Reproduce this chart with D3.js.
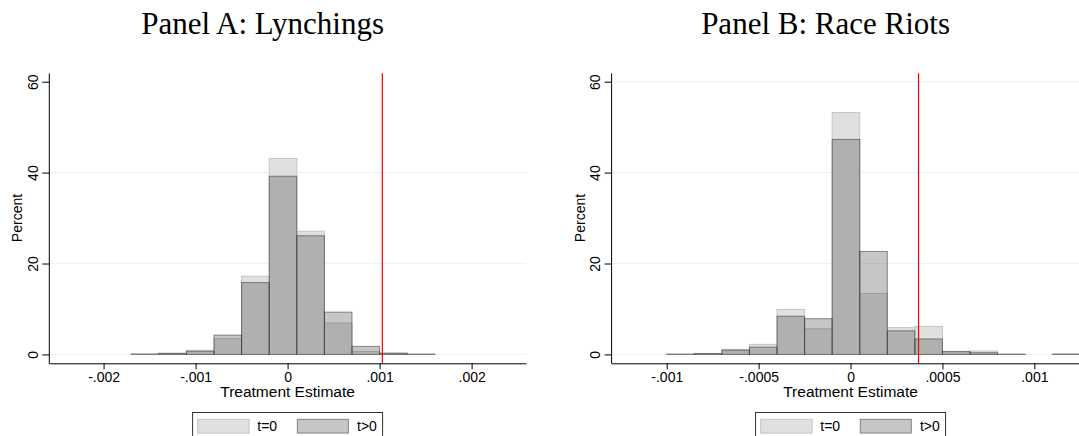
<!DOCTYPE html>
<html>
<head>
<meta charset="utf-8">
<script src="https://cdn.jsdelivr.net/npm/d3@7"></script>
<style>
  body { margin: 0; background: #fff; }
  svg { display: block; }
  text { font-family: "Liberation Sans", Arial, sans-serif; fill: #000; }
</style>
</head>
<body>
<svg id="chart" width="1079" height="436"></svg>
<script>
// Panel A: Lynchings  (bin left edges, width .0003)
let binsA = [-0.0017, -0.0014, -0.0011, -0.0008, -0.0005, -0.0002, 0.0001, 0.0004, 0.0007, 0.0010, 0.0013];
let binWA = 0.0003;
let t0A   = [0.12, 0.2, 0.9, 3.5, 17.2, 43.1, 27.1, 6.9, 0.66, 0.2, 0.1];
let tposA = [0.04, 0.25, 0.7, 4.25, 15.8, 39.2, 26.1, 9.3, 1.76, 0.3, 0.03];
let redA = 0.00103;
let xTicksA = [-0.002, -0.001, 0, 0.001, 0.002];
let xLabelsA = ["-.002", "-.001", "0", ".001", ".002"];

// Panel B: Race Riots (bin left edges, width .00015)
let binsB = [-0.001, -0.00085, -0.0007, -0.00055, -0.0004, -0.00025, -0.0001, 0.00005, 0.0002, 0.00035, 0.0005, 0.00065, 0.0008, 0.00095, 0.0011];
let binWB = 0.00015;
let t0B   = [0.1, 0.15, 1.1, 2.2, 9.9, 5.65, 53.2, 13.4, 5.9, 6.15, 0.55, 0.73, 0.1, 0, 0.1];
let tposB = [0.03, 0.2, 0.95, 1.6, 8.4, 7.85, 47.3, 22.65, 5.2, 3.4, 0.66, 0.37, 0.03, 0, 0.05];
let redB = 0.00037;
let xTicksB = [-0.001, -0.0005, 0, 0.0005, 0.001];
let xLabelsB = ["-.001", "-.0005", "0", ".0005", ".001"];

let yTicks = [0, 20, 40, 60];
let legendLabels = ["t=0", "t>0"];

const svg = d3.select("#chart");
const plotTop = 73.3, axisY = 363.3;

function drawPanel(p) {
  let g = svg.append("g");
  let x = d3.scaleLinear().domain(p.xdom).range([p.left, p.right]);
  let y = d3.scaleLinear().domain([0, 60]).range([354.4, 81.7]);

  // grid
  g.selectAll(".grid").data(p.grid).enter().append("line")
    .attr("x1", p.left).attr("x2", p.right)
    .attr("y1", d => y(d)).attr("y2", d => y(d))
    .attr("stroke", "#eaf2f3").attr("stroke-width", 1);

  // t=0 bars
  g.selectAll(".b0").data(p.bins).enter().append("rect")
    .attr("x", d => x(d)).attr("width", d => x(d + p.binW) - x(d))
    .attr("y", (d, i) => y(p.t0[i])).attr("height", (d, i) => y(0) - y(p.t0[i]))
    .attr("fill", "#e0e0e0").attr("stroke", "#c4c4c4").attr("stroke-width", 1);
  // t>0 bars
  g.selectAll(".b1").data(p.bins).enter().append("rect")
    .attr("x", d => x(d)).attr("width", d => x(d + p.binW) - x(d))
    .attr("y", (d, i) => y(p.tpos[i])).attr("height", (d, i) => y(0) - y(p.tpos[i]))
    .attr("fill", "rgb(58,58,58)").attr("fill-opacity", 0.29)
    .attr("stroke", "rgba(40,40,40,0.5)").attr("stroke-width", 1);

  // red line
  g.append("line").attr("x1", x(p.red)).attr("x2", x(p.red))
    .attr("y1", plotTop).attr("y2", axisY)
    .attr("stroke", "#ff0000").attr("stroke-width", 1.2);

  // x axis
  let xa = g.append("g").attr("transform", `translate(0,${axisY})`)
    .call(d3.axisBottom(x).tickValues(p.xTicks).tickFormat((d, i) => p.xLabels[i])
      .tickSize(6).tickSizeOuter(0).tickPadding(3));
  xa.selectAll("text").style("font-size", "14px").attr("font-family", null);
  xa.attr("font-family", null);

  // y axis
  let ya = g.append("g").attr("transform", `translate(${p.left},0)`)
    .call(d3.axisLeft(y).tickValues(yTicks).tickSize(7).tickSizeOuter(0));
  ya.select(".domain").remove();
  ya.attr("font-family", null);
  ya.selectAll("text").attr("x", null).attr("dy", null)
    .attr("text-anchor", "middle").style("font-size", "14px")
    .attr("transform", "translate(-11.5,0) rotate(-90)");
  g.append("line").attr("x1", p.left).attr("x2", p.left)
    .attr("y1", plotTop).attr("y2", axisY + 0.5).attr("stroke", "#000");

  // axis titles
  g.append("text").attr("transform", `translate(${p.left - 27},218) rotate(-90)`)
    .attr("text-anchor", "middle").style("font-size", "14px").text("Percent");
  let cx = (p.left + p.right) / 2;
  g.append("text").attr("x", cx).attr("y", 397.3).attr("text-anchor", "middle")
    .style("font-size", "15.5px").text("Treatment Estimate");

  // panel title
  g.append("text").attr("x", cx - 25).attr("y", 34).attr("text-anchor", "middle")
    .style("font-family", "'Liberation Serif', 'Times New Roman', serif")
    .style("font-size", "31px").text(p.title);

  // legend
  let lx = cx - 95.5;
  let lg = g.append("g").attr("transform", `translate(${lx},412)`);
  lg.append("rect").attr("x", 0.5).attr("y", 0.5).attr("width", 190).attr("height", 30)
    .attr("fill", "#fff").attr("stroke", "#333");
  lg.append("rect").attr("x", 5.6).attr("y", 7.3).attr("width", 51.4).attr("height", 13.8)
    .attr("fill", "#e0e0e0").attr("stroke", "#c4c4c4");
  lg.append("rect").attr("x", 105.2).attr("y", 7.3).attr("width", 51.1).attr("height", 13.8)
    .attr("fill", "rgb(58,58,58)").attr("fill-opacity", 0.29).attr("stroke", "rgba(40,40,40,0.5)");
  lg.append("text").attr("x", 65.2).attr("y", 19).style("font-size", "14px").text(legendLabels[0]);
  lg.append("text").attr("x", 164.9).attr("y", 19).style("font-size", "14px").text(legendLabels[1]);
}

drawPanel({
  title: "Panel A: Lynchings", left: 49.3, right: 525.9, xdom: [-0.00259, 0.00259],
  bins: binsA, binW: binWA, t0: t0A, tpos: tposA, red: redA,
  xTicks: xTicksA, xLabels: xLabelsA, grid: [0, 20, 40]
});
drawPanel({
  title: "Panel B: Race Riots", left: 611.6, right: 1089.5, xdom: [-0.0013, 0.0013],
  bins: binsB, binW: binWB, t0: t0B, tpos: tposB, red: redB,
  xTicks: xTicksB, xLabels: xLabelsB, grid: [0, 20, 40, 60]
});
</script>
</body>
</html>
